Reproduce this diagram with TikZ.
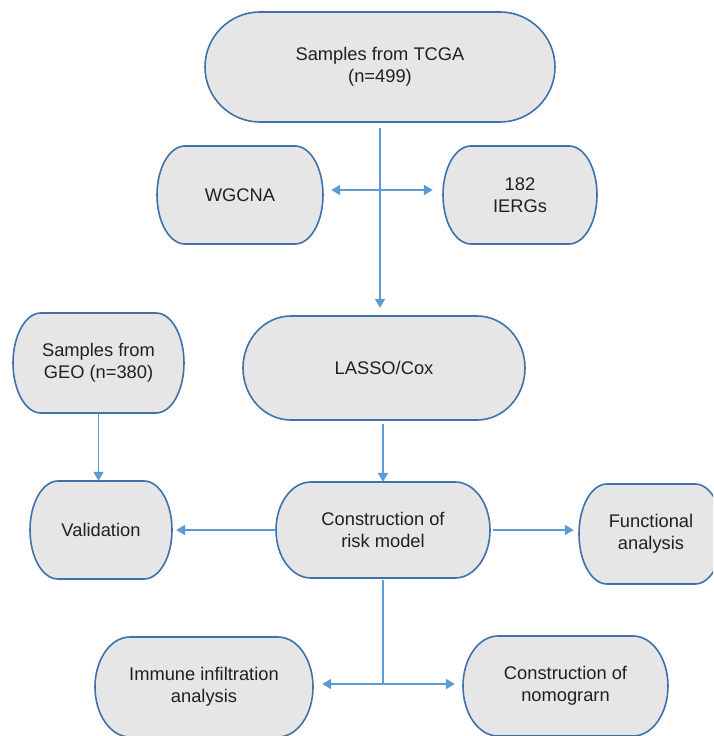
\documentclass[tikz,border=0pt]{standalone}
\usepackage{fontspec}
\setmainfont{Liberation Sans}
\usetikzlibrary{arrows.meta,calc}
\definecolor{boxedge}{HTML}{3F72A8}
\definecolor{boxfill}{HTML}{E6E6E7}
\definecolor{arrowc}{HTML}{5B9BD5}
\definecolor{txt}{HTML}{231F20}
\tikzset{
  boxline/.style={draw=boxedge, fill=boxfill, line width=1.6pt},
  boxtext/.style={align=center, text=txt, inner sep=0pt, font=\fontsize{18.3}{22}\selectfont},
  conn/.style={draw=arrowc, line width=1.8pt},
  arr/.style={conn, -{Triangle[length=9pt,width=10pt]}},
  darr/.style={conn, {Triangle[length=9pt,width=10pt]}-{Triangle[length=9pt,width=10pt]}}
}
\newcommand\pillbox[7]{%
  \pgfmathsetmacro\pxa{#2-#4/2+#6}%
  \pgfmathsetmacro\pxb{#2+#4/2-#6}%
  \pgfmathsetmacro\pya{#3-#5/2}%
  \pgfmathsetmacro\pyb{#3+#5/2}%
  \draw[boxline] (\pxa,\pya) -- (\pxb,\pya)
     arc[start angle=-90,end angle=90,x radius=#6,y radius=#5/2]
     -- (\pxa,\pyb)
     arc[start angle=90,end angle=270,x radius=#6,y radius=#5/2] -- cycle;
  \node[boxtext, minimum width=#4, minimum height=#5] (#1) at (#2,#3) {#7};
}
\begin{document}
\begin{tikzpicture}[x=1pt,y=-1pt]
\clip (0,0) rectangle (713,736);
\fill[white] (0,0) rectangle (713,736);
\pillbox{tcga}{380}{67}{350}{110}{55}{Samples from TCGA\\(n=499)}
\pillbox{wgcna}{240}{195}{166}{98}{28}{WGCNA}
\pillbox{ierg}{520}{195}{154}{98}{28}{182\\IERGs}
\pillbox{geo}{98.5}{363}{171}{100}{28}{Samples from\\GEO (n=380)}
\pillbox{lasso}{384}{368}{282}{104}{48}{LASSO/Cox}
\pillbox{valid}{101}{530}{142}{98}{28}{Validation}
\pillbox{cons}{383}{530}{214}{96}{35}{Construction of\\risk model}
\pillbox{func}{651}{534}{144}{100}{28}{Functional\\analysis}
\pillbox{immune}{204}{687}{218}{100}{35}{Immune infiltration\\analysis}
\pillbox{nomo}{565.5}{686}{205}{100}{35}{Construction of\\nomograrn}
% connectors
\draw[arr] ([yshift=-6pt]tcga.south) -- ([yshift=8pt]tcga.south |- lasso.north);
\draw[darr] ([xshift=8pt,yshift=5pt]wgcna.east) -- ([xshift=-10pt,yshift=5pt]ierg.west);
\draw[arr] (geo.south) -- (geo.south |- valid.north);
\draw[arr] ([yshift=-4pt]lasso.south -| cons.north) -- (cons.north);
\draw[arr] (cons.west) -- ([xshift=4pt]valid.east);
\draw[arr] ([xshift=3pt]cons.east) -- ([xshift=-5pt]cons.east -| func.west);
\coordinate (j) at (cons.south |- 0,684);
\draw[conn] ([yshift=-2pt]cons.south) -- (j);
\draw[darr] ([xshift=9pt]immune.east |- j) -- ([xshift=-8pt]nomo.west |- j);
\end{tikzpicture}
\end{document}
